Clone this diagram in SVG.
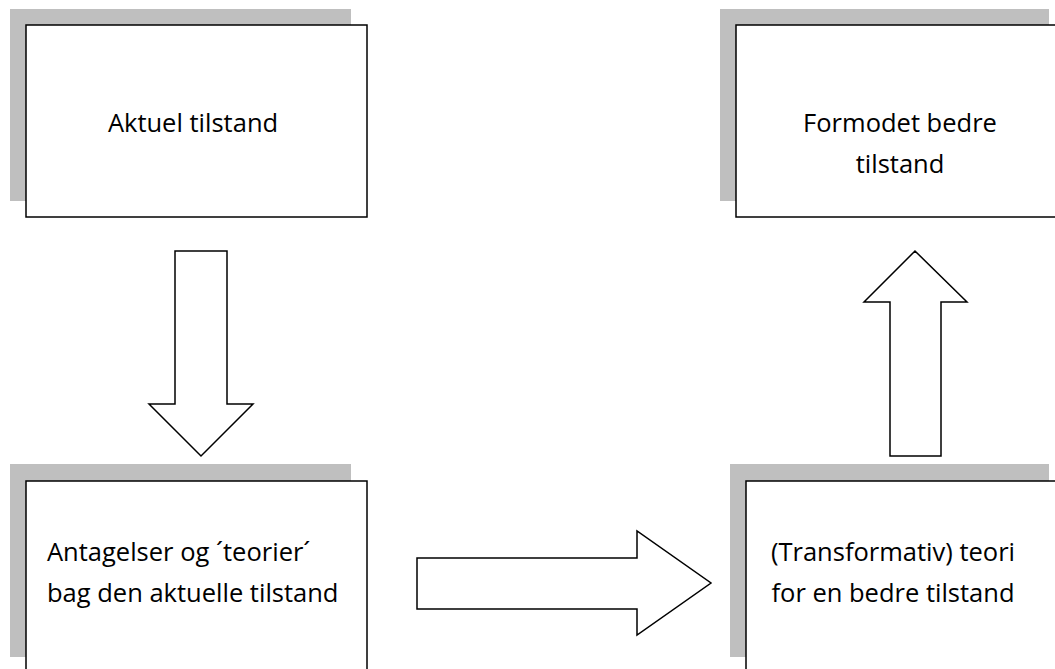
<svg xmlns="http://www.w3.org/2000/svg" width="1055" height="669" viewBox="0 0 1055 669">
<style>
.shadow{fill:#bfbfbf;stroke:none}
.box{fill:#ffffff;stroke:#000000;stroke-width:1.5}
.arrow{fill:#ffffff;stroke:#000000;stroke-width:1.5;stroke-linejoin:miter}
text{font-family:"Open Sans","Noto Sans","Liberation Sans",sans-serif;font-size:25.5px;fill:#000000}
</style>
<rect width="1055" height="669" fill="#ffffff"/>
<g id="node-aktuel">
<rect class="shadow" x="10" y="9" width="341" height="192"/>
<rect class="box" x="26" y="25" width="341" height="192"/>
<text x="193" y="132" text-anchor="middle">Aktuel tilstand</text>
</g>
<g id="node-formodet">
<rect class="shadow" x="720" y="9" width="329" height="192"/>
<rect class="box" x="736" y="25" width="340" height="192"/>
<text x="900" y="132" text-anchor="middle">Formodet bedre</text>
<text x="900" y="173" text-anchor="middle">tilstand</text>
</g>
<g id="node-antagelser">
<rect class="shadow" x="10" y="464" width="341" height="193"/>
<rect class="box" x="26" y="481" width="341" height="200"/>
<text x="47" y="561">Antagelser og ´teorier´</text>
<text x="47" y="602">bag den aktuelle tilstand</text>
</g>
<g id="node-transformativ">
<rect class="shadow" x="730" y="464" width="319" height="193"/>
<rect class="box" x="746" y="481" width="340" height="200"/>
<text x="893" y="561" text-anchor="middle">(Transformativ) teori</text>
<text x="893" y="602" text-anchor="middle">for en bedre tilstand</text>
</g>
<g id="connectors">
<polygon class="arrow" points="175,251 227,251 227,404 253,404 201,456 149,404 175,404"/>
<polygon class="arrow" points="417,558 637,558 637,531 711,583 637,635 637,609 417,609"/>
<polygon class="arrow" points="890,456 941,456 941,302 967,302 915,251 864,302 890,302"/>
</g>
</svg>
